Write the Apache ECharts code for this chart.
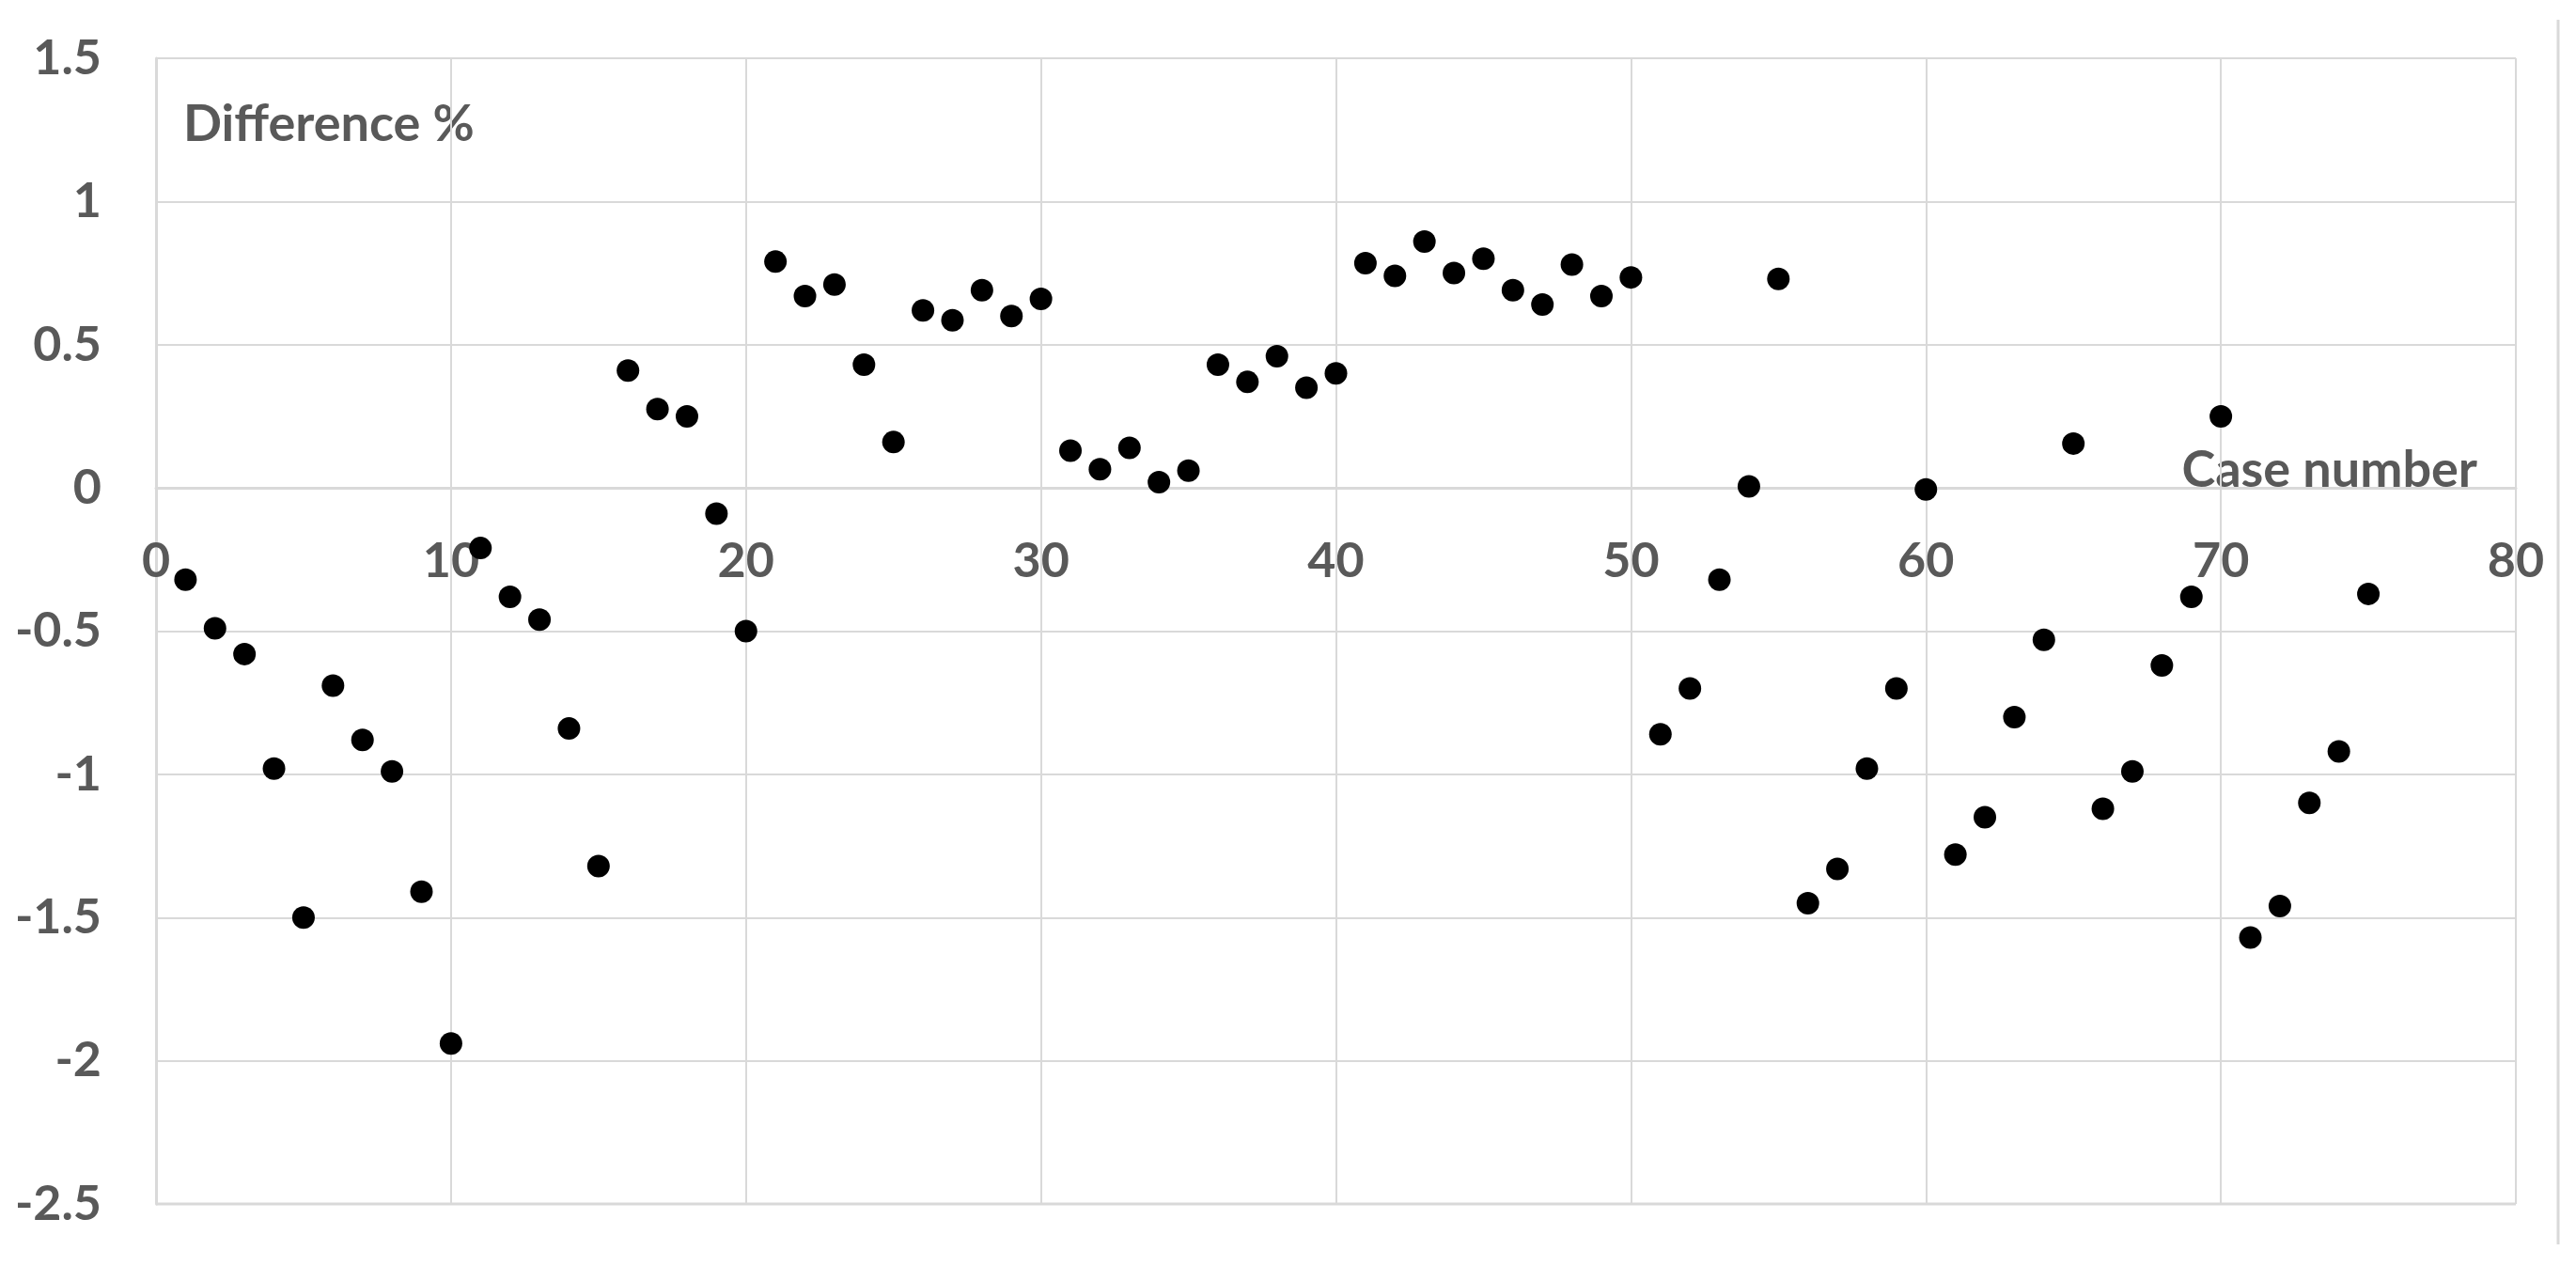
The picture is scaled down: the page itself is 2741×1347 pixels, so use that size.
<!DOCTYPE html>
<html>
<head>
<meta charset="utf-8">
<script src="https://cdn.jsdelivr.net/npm/echarts@6/dist/echarts.min.js"></script>
<style>
html,body{margin:0;padding:0;background:#fff;}
#chart{width:2741px;height:1347px;}
</style>
</head>
<body>
<div id="chart"></div>
<script>
const caseNumbers = [1,2,3,4,5,6,7,8,9,10,11,12,13,14,15,16,17,18,19,20,21,22,23,24,25,26,27,28,29,30,31,32,33,34,35,36,37,38,39,40,41,42,43,44,45,46,47,48,49,50,51,52,53,54,55,56,57,58,59,60,61,62,63,64,65,66,67,68,69,70,71,72,73,74,75];
const differences = [-0.32,-0.49,-0.58,-0.98,-1.5,-0.69,-0.88,-0.99,-1.41,-1.94,
  -0.21,-0.38,-0.46,-0.84,-1.32,0.41,0.275,0.25,-0.09,-0.5,
  0.79,0.67,0.71,0.43,0.16,0.62,0.585,0.69,0.6,0.66,
  0.13,0.065,0.14,0.02,0.06,0.43,0.37,0.46,0.35,0.4,
  0.785,0.74,0.86,0.75,0.8,0.69,0.64,0.78,0.67,0.735,
  -0.86,-0.7,-0.32,0.005,0.73,-1.45,-1.33,-0.98,-0.7,-0.005,
  -1.28,-1.15,-0.8,-0.53,0.155,-1.12,-0.99,-0.62,-0.38,0.25,
  -1.57,-1.46,-1.1,-0.92,-0.37];
const xTicks = {min: 0, max: 80, interval: 10};
const yTicks = {min: -2.5, max: 1.5, interval: 0.5};
const yAxisTitle = 'Difference %';
const xAxisTitle = 'Case number';

const points = caseNumbers.map((c, i) => [c, differences[i]]);
const labelColor = '#595959';
const gridColor = '#d9d9d9';
const fontFamily = 'Lato, "Open Sans", sans-serif';

const gridTop = 62, gridBottom = 66, chartH = 1347;
const plotH = chartH - gridTop - gridBottom;
// distance from bottom edge of plot to the y=0 line, derived from the axis range
const zeroOffset = plotH * (0 - yTicks.min) / (yTicks.max - yTicks.min);

const chart = echarts.init(document.getElementById('chart'));
chart.setOption({
  animation: false,
  backgroundColor: '#fff',
  grid: {left: 166, right: 64, top: gridTop, bottom: gridBottom, containLabel: false},
  xAxis: {
    type: 'value',
    min: xTicks.min, max: xTicks.max, interval: xTicks.interval,
    offset: -zeroOffset,
    axisLine: {show: true, onZero: false, lineStyle: {color: gridColor, width: 3}},
    axisTick: {show: false},
    axisLabel: {color: labelColor, fontSize: 52, fontWeight: 'bold', fontFamily: fontFamily, margin: 52},
    splitLine: {show: true, lineStyle: {color: gridColor, width: 2}}
  },
  yAxis: {
    type: 'value',
    min: yTicks.min, max: yTicks.max, interval: yTicks.interval,
    axisLine: {show: true, lineStyle: {color: gridColor, width: 3}},
    axisTick: {show: false},
    axisLabel: {color: labelColor, fontSize: 52, fontWeight: 'bold', fontFamily: fontFamily, margin: 58},
    splitLine: {show: true, lineStyle: {color: gridColor, width: 2}}
  },
  graphic: [
    {type: 'text', left: 195, top: 106, style: {text: yAxisTitle, fill: labelColor, font: 'bold 54px ' + fontFamily}},
    {type: 'text', right: 2741 - 2636, top: 474, style: {text: xAxisTitle, fill: labelColor, font: 'bold 54px ' + fontFamily}},
    {type: 'line', shape: {x1: 2722, y1: 21, x2: 2722, y2: 1324}, style: {stroke: gridColor, lineWidth: 3}},
    {type: 'line', shape: {x1: 166, y1: chartH - gridBottom, x2: 2677, y2: chartH - gridBottom}, style: {stroke: gridColor, lineWidth: 3}}
  ],
  series: [{
    type: 'scatter',
    data: points,
    symbol: 'circle',
    symbolSize: 24,
    itemStyle: {color: '#000', opacity: 1}
  }]
});
</script>
</body>
</html>
